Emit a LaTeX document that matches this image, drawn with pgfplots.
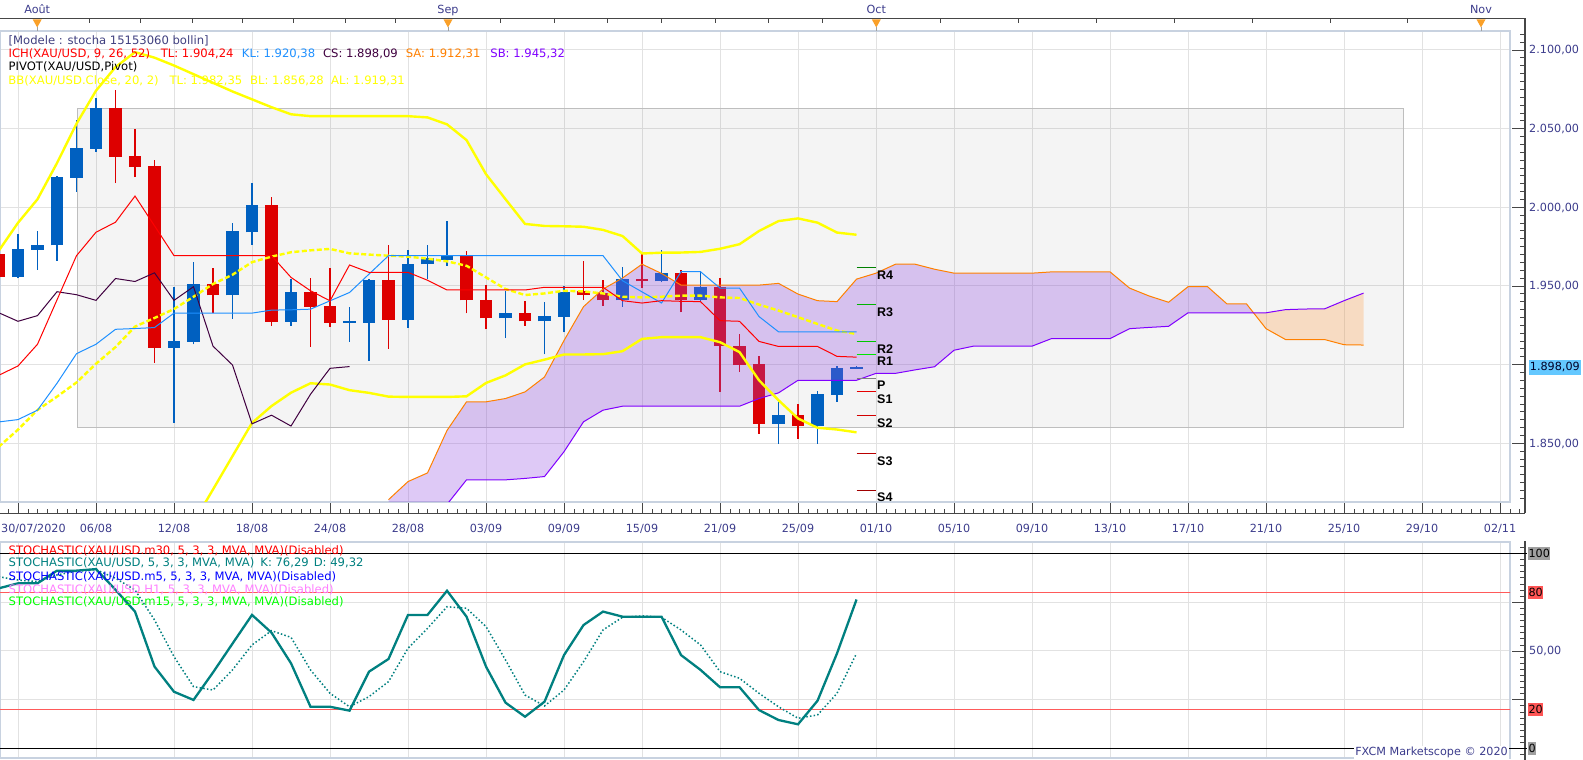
\documentclass[border=0pt]{standalone}
\usepackage{pgfplots}
\usepackage{pgfplotstable}
\pgfplotsset{compat=1.18}
\usepackage{fontspec}
\setmainfont{DejaVu Sans}
\newfontfamily\pivfont{Liberation Sans}

\definecolor{cblue}{RGB}{0,96,192}
\definecolor{cred}{RGB}{221,0,0}
\definecolor{tenkan}{RGB}{255,0,0}
\definecolor{kijun}{RGB}{30,144,255}
\definecolor{chikou}{RGB}{64,0,64}
\definecolor{senA}{RGB}{255,128,0}
\definecolor{senB}{RGB}{128,0,255}
\definecolor{bb}{RGB}{255,255,0}
\definecolor{cloudP}{RGB}{147,77,227}
\definecolor{cloudO}{RGB}{255,164,81}
\definecolor{gridc}{RGB}{226,226,226}
\definecolor{framec}{RGB}{200,210,224}
\definecolor{rectc}{RGB}{190,190,190}
\definecolor{axc}{RGB}{70,70,70}
\definecolor{labc}{RGB}{60,60,140}
\definecolor{modc}{RGB}{64,64,128}
\definecolor{tealk}{RGB}{0,128,128}
\definecolor{stred}{RGB}{255,90,90}
\definecolor{mkor}{RGB}{250,160,40}
\definecolor{pricebg}{RGB}{100,200,255}
\definecolor{lblgray}{RGB}{160,160,160}
\definecolor{lblred}{RGB}{255,85,85}
\definecolor{pR4}{RGB}{0,128,0}
\definecolor{pR3}{RGB}{0,180,0}
\definecolor{pR2}{RGB}{0,200,0}
\definecolor{pR1}{RGB}{0,230,0}
\definecolor{pP}{RGB}{128,128,128}
\definecolor{pS1}{RGB}{230,0,0}
\definecolor{pS2}{RGB}{210,0,0}
\definecolor{pS3}{RGB}{185,0,0}
\definecolor{pS4}{RGB}{160,0,0}
\definecolor{stpink}{RGB}{255,128,255}
\definecolor{stgreen}{RGB}{0,255,0}

\newcommand\lf{\fontsize{11.6pt}{13pt}\selectfont}
\newcommand\af{\fontsize{11.2pt}{13pt}\selectfont}
\newcommand\pf{\pivfont\bfseries\fontsize{12.5pt}{14pt}\selectfont}

% candles: i open high low close
\pgfplotstableread{
i o h l c
0 1955.3 1982.6 1954.7 1973.6
1 1973.0 1984.5 1960.2 1976.2
2 1975.7 2019.5 1966.0 2019.1
3 2018.5 2055.3 2009.6 2037.4
4 2037.0 2069.6 2035.1 2063.0
8 1910.6 1948.9 1862.8 1914.9
9 1914.5 1965.3 1912.8 1951.3
11 1943.8 1990.0 1929.1 1984.5
12 1984.0 2015.1 1976.2 2001.1
14 1927.2 1954.5 1924.5 1946.2
17 1926.6 1936.6 1914.5 1927.4
18 1926.6 1954.0 1902.3 1953.8
20 1928.3 1973.0 1923.2 1964.0
21 1963.6 1976.2 1954.3 1967.4
22 1966.5 1991.1 1962.7 1968.8
25 1929.3 1946.8 1916.7 1932.9
27 1927.4 1939.9 1906.3 1931.0
28 1930.4 1949.6 1920.3 1946.2
31 1940.7 1962.0 1936.7 1954.6
33 1952.7 1972.6 1952.1 1958.2
35 1940.7 1959.1 1940.5 1949.4
39 1862.2 1876.2 1849.6 1867.7
41 1860.8 1882.9 1849.6 1881.0
42 1880.6 1899.0 1876.2 1897.5
43 1897.3 1898.8 1897.3 1898.6
}\upc
\pgfplotstableread{
i o h l c
-1 1970.0 1972.0 1954.0 1955.3
5 2063.0 2074.5 2015.3 2031.9
6 2032.3 2049.6 2019.1 2025.5
7 2026.0 2029.8 1900.9 1910.6
10 1951.3 1961.3 1932.6 1943.8
13 2001.1 2006.2 1924.5 1927.2
15 1946.2 1955.1 1911.3 1936.6
16 1937.2 1961.3 1923.8 1926.6
19 1953.8 1976.2 1910.0 1928.3
23 1968.8 1972.2 1932.5 1940.7
24 1941.1 1950.6 1922.2 1929.3
26 1932.9 1940.5 1924.7 1927.4
29 1946.4 1965.8 1941.1 1944.3
30 1945.1 1953.6 1937.3 1940.7
32 1954.4 1971.1 1948.5 1952.7
34 1958.2 1959.9 1933.1 1940.7
36 1949.4 1954.9 1882.5 1911.6
37 1912.0 1919.4 1895.1 1899.6
38 1900.0 1905.1 1855.9 1862.2
40 1867.7 1874.7 1852.7 1860.8
}\dnc

% Ichimoku tenkan / kijun
\pgfplotstableread{
i tk kj
-1 1893 1863.4
0 1899 1864.9
1 1912.8 1870.9
2 1941 1888
3 1969.1 1906.8
4 1984 1912.8
5 1990.4 1922.3
6 2007 1922.8
7 1988.1 1923.4
8 1969.1 1932.6
9 1969.1 1932.6
10 1969.1 1932.6
11 1969.1 1932.6
12 1969.1 1932.6
13 1969.1 1934.5
14 1955.3 1934.7
15 1946.8 1935.1
16 1940.4 1940.4
17 1963.2 1945.7
18 1958.5 1957.4
19 1958.5 1969.1
20 1958.5 1969.1
21 1953.5 1969.1
22 1947.3 1969.1
23 1947.3 1969.1
24 1947.3 1969.1
25 1947.3 1969.1
26 1947.3 1969.1
27 1949 1969.1
28 1949 1969.1
29 1949 1969.1
30 1949 1969.1
31 1940.5 1953.2
32 1939 1946.1
33 1940.5 1939
34 1940.1 1958.9
35 1939.9 1958.9
36 1927.8 1948.5
37 1927.4 1948.5
38 1914.6 1930.4
39 1911.4 1920.7
40 1911.4 1920.7
41 1911.4 1920.7
42 1905.1 1920.7
43 1904.6 1920.7
}\ichi

% Chikou span
\pgfplotstableread{
i v
-1 1932.9
0 1927.4
1 1931.0
2 1946.2
3 1944.3
4 1940.7
5 1954.6
6 1952.7
7 1958.2
8 1940.7
9 1949.4
10 1911.6
11 1899.6
12 1862.2
13 1867.7
14 1860.8
15 1881.0
16 1897.5
17 1898.6
}\chik

% Senkou A / B
\pgfplotstableread{
i sa sb
19 1814 1766
20 1825.5 1781
21 1831 1796
22 1858 1811
23 1876.2 1826.6
24 1876.2 1826.6
25 1878.3 1826.6
26 1882.5 1827.5
27 1892 1828.7
28 1915.2 1844.5
29 1936.7 1863.5
30 1947.9 1870.9
31 1954.9 1873.4
32 1963.7 1873.4
33 1957.8 1873.4
34 1950.4 1873.4
35 1950.4 1873.4
36 1950.4 1873.4
37 1950.4 1873.4
38 1950.4 1878.3
39 1951.5 1881.9
40 1944.7 1889.9
41 1940.5 1889.9
42 1939.9 1889.9
43 1954.2 1889.9
44 1958 1894.3
45 1963.7 1894.3
46 1963.7 1896.5
47 1960.5 1898.5
48 1958 1909
49 1958 1911.6
50 1958 1911.6
51 1958 1911.6
52 1958 1911.6
53 1958.8 1916.4
54 1958.8 1916.4
55 1958.8 1916.4
56 1958.8 1916.4
57 1948.5 1922.7
58 1943.5 1923.5
59 1939.5 1924.2
60 1949.4 1932.8
61 1949.4 1932.8
62 1938.4 1932.8
63 1938.4 1932.8
64 1922.7 1932.8
65 1915.8 1934.8
66 1915.8 1935.2
67 1915.8 1935.3
68 1912.5 1940.5
69 1912.3 1945.3
}\cloud

% cloud areas (same values: Senkou A forward, Senkou B back)
\pgfplotstableread{
i v
19 1814
20 1825.5
21 1831
22 1858
23 1876.2
24 1876.2
25 1878.3
26 1882.5
27 1892
28 1915.2
29 1936.7
30 1947.9
31 1954.9
32 1963.7
33 1957.8
34 1950.4
35 1950.4
36 1950.4
37 1950.4
38 1950.4
39 1951.5
40 1944.7
41 1940.5
42 1939.9
43 1954.2
44 1958
45 1963.7
46 1963.7
47 1960.5
48 1958
49 1958
50 1958
51 1958
52 1958
53 1958.8
54 1958.8
55 1958.8
56 1958.8
57 1948.5
58 1943.5
59 1939.5
60 1949.4
61 1949.4
62 1938.4
63 1938.4
63.357 1932.8
63 1932.8
62 1932.8
61 1932.8
60 1932.8
59 1924.2
58 1923.5
57 1922.7
56 1916.4
55 1916.4
54 1916.4
53 1916.4
52 1911.6
51 1911.6
50 1911.6
49 1911.6
48 1909
47 1898.5
46 1896.5
45 1894.3
44 1894.3
43 1889.9
42 1889.9
41 1889.9
40 1889.9
39 1881.9
38 1878.3
37 1873.4
36 1873.4
35 1873.4
34 1873.4
33 1873.4
32 1873.4
31 1873.4
30 1870.9
29 1863.5
28 1844.5
27 1828.7
26 1827.5
25 1826.6
24 1826.6
23 1826.6
22 1811
21 1796
20 1781
19 1766
}\cloudup
\pgfplotstableread{
i v
63.357 1932.8
64 1932.8
65 1934.8
66 1935.2
67 1935.3
68 1940.5
69 1945.3
69 1912.3
68 1912.5
67 1915.8
66 1915.8
65 1915.8
64 1922.7
}\clouddn

% Bollinger bands
\pgfplotstableread{
i v
-1 1972
0 1990
1 2005
2 2028
3 2053
4 2074
5 2089
6 2098.5
7 2095
8 2090
9 2084.5
10 2079
11 2073.5
12 2068.5
13 2063.5
14 2059
15 2057.8
16 2057.8
17 2057.8
18 2057.8
19 2057.8
20 2057.8
21 2057
22 2052.6
23 2042.6
24 2020.9
25 2005
26 1989.3
27 1988
28 1987.8
29 1987.5
30 1985.5
31 1981.6
32 1970.5
33 1971
34 1971.1
35 1971.5
36 1973.5
37 1976.4
38 1984.8
39 1991.1
40 1992.8
41 1990.1
42 1983.8
43 1982.4
}\bbU
\pgfplotstableread{
i v
-1 1847.5
0 1858.5
1 1871
2 1879.5
3 1888.5
4 1900.4
5 1911
6 1924
7 1929.5
8 1935.2
9 1943
10 1951.1
11 1957
12 1965
13 1968.5
14 1971.3
15 1972.5
16 1973.4
17 1970.6
18 1969.8
19 1969.1
20 1968.5
21 1967.2
22 1965.5
23 1962.7
24 1955.3
25 1947.9
26 1944.1
27 1945.1
28 1946.8
29 1946.4
30 1945.1
31 1943
32 1942.6
33 1943
34 1943.7
35 1943.7
36 1942.6
37 1942.2
38 1938
39 1934.2
40 1930
41 1925.7
42 1921.5
43 1919.3
}\bbM
\pgfplotstableread{
i v
8 1778
9 1799.5
10 1820.5
11 1841.7
12 1862.8
13 1873.5
14 1882
15 1888
16 1887.2
17 1883.6
18 1881.9
19 1879.5
20 1879.3
21 1879.3
22 1879.3
23 1879.7
24 1888.2
25 1893
26 1900
27 1903
28 1906.3
29 1906.3
30 1906.5
31 1908.4
32 1916.2
33 1917.3
34 1917.3
35 1917.3
36 1914.1
37 1907.8
38 1889.9
39 1877.2
40 1865.6
41 1859.7
42 1858.6
43 1856.8
}\bbL

% Stochastic K / D
\pgfplotstableread{
i k d
-1 82 88
0 84.6 86.3
1 84.6 85.5
2 91.1 88.9
3 91.1 90.8
4 91.9 91.6
5 81.3 87.2
6 70.1 81.2
7 41.9 65.8
8 29 47
9 24.8 31.6
10 38.9 29.9
11 53.7 40.2
12 68.4 53
13 59.3 60.3
14 43.6 56.9
15 21.3 40.2
16 21.3 28.2
17 19.3 21.3
18 39.3 26.5
19 45.8 34.2
20 68.4 51.3
21 68.4 61.5
22 80.8 72.6
23 67.5 71.8
24 41.9 62.4
25 23.4 45.3
26 16.2 27.3
27 23.9 21.7
28 47.8 29.9
29 63.2 44.4
30 70.1 60.7
31 67.5 67.2
32 67.5 67.9
33 67.5 67.2
34 47.8 60.7
35 40.2 53
36 31.3 39.3
37 31.3 35.9
38 19.6 28.2
39 14.5 21.3
40 12.3 15.4
41 24.4 17.1
42 48.7 28.2
43 76.3 48.7
}\stoch

\begin{document}
\begin{tikzpicture}[font=\af]
\useasboundingbox (0,0) rectangle (1583pt,760pt);
\fill[white] (0,0) rectangle (1583pt,760pt);

%================ MAIN PRICE PANEL ================
\begin{axis}[
  at={(0pt,258.3pt)}, anchor=south west,
  scale only axis, width=1510pt, height=470.7pt,
  xmin=-0.92308, xmax=76.5128, ymin=1812.71, ymax=2111.95,
  xtick={0,4,...,76}, ytick={1850,1900,...,2100},
  xticklabels={}, yticklabels={}, major tick length=0pt,
  grid=major, major grid style={draw=gridc, line width=1pt},
  axis line style={draw=framec, line width=2pt}]

% gray zone
\addplot[draw=rectc, line width=1pt, fill=black, fill opacity=0.045]
  coordinates {(3.03,1860) (71.07,1860) (71.07,2062.8) (3.03,2062.8) (3.03,1860)};

% candles: wicks
\addplot[draw=none, mark=none, error bars/.cd, y dir=plus, y explicit, error mark=none,
  error bar style={draw=cblue, line width=1.7pt}]
  table[x=i, y=l, y error expr=\thisrow{h}-\thisrow{l}] {\upc};
\addplot[draw=none, mark=none, error bars/.cd, y dir=plus, y explicit, error mark=none,
  error bar style={draw=cred, line width=1.7pt}]
  table[x=i, y=l, y error expr=\thisrow{h}-\thisrow{l}] {\dnc};
% candles: bodies
\addplot[draw=none, mark=none, error bars/.cd, y dir=plus, y explicit, error mark=none,
  error bar style={draw=cblue, line width=12.5pt}]
  table[x=i, y=o, y error expr=\thisrow{c}-\thisrow{o}] {\upc};
\addplot[draw=none, mark=none, error bars/.cd, y dir=plus, y explicit, error mark=none,
  error bar style={draw=cred, line width=12.5pt}]
  table[x=i, y=c, y error expr=\thisrow{o}-\thisrow{c}] {\dnc};

% Ichimoku cloud
\addplot[fill=cloudP, fill opacity=0.3, draw=none] table[x=i,y=v]{\cloudup};
\addplot[fill=cloudO, fill opacity=0.3, draw=none] table[x=i,y=v]{\clouddn};
\addplot[senA, line width=1pt] table[x=i,y=sa]{\cloud};
\addplot[senB, line width=1pt] table[x=i,y=sb]{\cloud};

% Bollinger
\addplot[bb, line width=2.4pt] table[x=i,y=v]{\bbU};
\addplot[bb, line width=2.4pt] table[x=i,y=v]{\bbL};
\addplot[bb, line width=2.4pt, dash pattern=on 5pt off 2.5pt] table[x=i,y=v]{\bbM};

% Ichimoku lines
\addplot[chikou, line width=1pt] table[x=i,y=v]{\chik};
\addplot[kijun, line width=1pt] table[x=i,y=kj]{\ichi};
\addplot[tenkan, line width=1pt] table[x=i,y=tk]{\ichi};

% Pivot levels
\addplot[pR4, line width=1pt] coordinates {(43,1961.4) (44,1961.4)};
\addplot[pR3, line width=1pt] coordinates {(43,1938.0) (44,1938.0)};
\addplot[pR2, line width=1pt] coordinates {(43,1914.4) (44,1914.4)};
\addplot[pR1, line width=1pt] coordinates {(43,1906.3) (44,1906.3)};
\addplot[pP,  line width=1pt] coordinates {(43,1891.1) (44,1891.1)};
\addplot[pS1, line width=1pt] coordinates {(43,1882.6) (44,1882.6)};
\addplot[pS2, line width=1pt] coordinates {(43,1867.5) (44,1867.5)};
\addplot[pS3, line width=1pt] coordinates {(43,1843.2) (44,1843.2)};
\addplot[pS4, line width=1pt] coordinates {(43,1820.0) (44,1820.0)};
\node[anchor=base west, inner sep=0, font=\pf, yshift=-11.5pt] at (axis cs:44.05,1961.4) {R4};
\node[anchor=base west, inner sep=0, font=\pf, yshift=-11.5pt] at (axis cs:44.05,1938.0) {R3};
\node[anchor=base west, inner sep=0, font=\pf, yshift=-11.5pt] at (axis cs:44.05,1914.4) {R2};
\node[anchor=base west, inner sep=0, font=\pf, yshift=-11.5pt] at (axis cs:44.05,1906.3) {R1};
\node[anchor=base west, inner sep=0, font=\pf, yshift=-11.5pt] at (axis cs:44.05,1891.1) {P};
\node[anchor=base west, inner sep=0, font=\pf, yshift=-11.5pt] at (axis cs:44.05,1882.6) {S1};
\node[anchor=base west, inner sep=0, font=\pf, yshift=-11.5pt] at (axis cs:44.05,1867.5) {S2};
\node[anchor=base west, inner sep=0, font=\pf, yshift=-11.5pt] at (axis cs:44.05,1843.2) {S3};
\node[anchor=base west, inner sep=0, font=\pf, yshift=-11.5pt] at (axis cs:44.05,1820.0) {S4};
\end{axis}

%================ STOCHASTIC PANEL ================
\begin{axis}[
  at={(0pt,1.7pt)}, anchor=south west,
  scale only axis, width=1510pt, height=216.6pt,
  xmin=-0.92308, xmax=76.5128, ymin=-5.128, ymax=105.949,
  xtick={0,4,...,76}, ytick={25,50,75},
  xticklabels={}, yticklabels={}, major tick length=0pt,
  grid=major, major grid style={draw=gridc, line width=1pt},
  axis line style={draw=framec, line width=2pt}]
\addplot[black, line width=1pt] coordinates {(-1,100) (77,100)};
\addplot[black, line width=1pt] coordinates {(-1,0) (77,0)};
\addplot[stred, line width=1pt] coordinates {(-1,80) (77,80)};
\addplot[stred, line width=1pt] coordinates {(-1,20) (77,20)};
\addplot[tealk, line width=1.5pt, dash pattern=on 1.5pt off 2.2pt] table[x=i,y=d]{\stoch};
\addplot[tealk, line width=2.3pt] table[x=i,y=k]{\stoch};
\end{axis}

%================ DECORATIONS (pixel coordinates) ================
\begin{scope}[x=1pt,y=-1pt,yshift=760pt]
% top time strip
\draw[axc, line width=1.2pt] (0,18.8) -- (1525,18.8) -- (1525,513.3);
\foreach \x in {89.6,140.3,191.7,242.4,293.4,344.8,395.5,500.3,553.9,607.6,661.3,714.9,768.6,822.3,939.7,1017.7,1095.7,1173.7,1251.7,1329.7,1407.5}
  \draw[axc] (\x,18.8) -- (\x,23);
\foreach \x/\m in {37.2/Août,448/Sep,876.3/Oct,1481/Nov} {
  \fill[mkor] (\x-4.5,19.4) -- (\x+4.5,19.4) -- (\x,27.5) -- cycle;
  \draw[lblgray] (\x,27.5) -- (\x,31);
  \node[text=labc, anchor=base, inner sep=0] at (\x,13.2) {\m};
}
% main right axis ticks
\foreach \v in {1815,1820,...,2110}
  \draw[axc] (1520,{49.8+(2100-\v)*1.573}) -- (1525,{49.8+(2100-\v)*1.573});
\foreach \v in {1850,1900,...,2100}
  \draw[axc] (1512,{49.8+(2100-\v)*1.573}) -- (1525,{49.8+(2100-\v)*1.573});
\node[text=labc, anchor=base west, inner sep=0] at (1529,54.0) {2.100,00};
\node[text=labc, anchor=base west, inner sep=0] at (1529,132.6) {2.050,00};
\node[text=labc, anchor=base west, inner sep=0] at (1529,211.3) {2.000,00};
\node[text=labc, anchor=base west, inner sep=0] at (1529,290.0) {1.950,00};
\node[text=labc, anchor=base west, inner sep=0] at (1529,447.3) {1.850,00};
\node[fill=pricebg, text=black!85!blue, anchor=west, inner xsep=1pt, inner ysep=0pt, minimum height=15pt] at (1528.7,367.4) {1.898,09};
% bottom date axis
\draw[axc, line width=1.2pt] (0,513.3) -- (1525,513.3);
\foreach \k in {-1,...,154}
  \draw[axc] ({18+9.75*\k},513.3) -- ({18+9.75*\k},508.6);
\foreach \k in {0,...,19}
  \draw[axc] ({18+78*\k},513.3) -- ({18+78*\k},502.6);
\node[text=labc, anchor=base west, inner sep=0] at (1,532.2) {30/07/2020};
\foreach \d [count=\k] in {06/08,12/08,18/08,24/08,28/08,03/09,09/09,15/09,21/09,25/09,01/10,05/10,09/10,13/10,17/10,21/10,25/10,29/10,02/11}
  \node[text=labc, anchor=base, inner sep=0] at ({18+78*\k},532.2) {\d};
% stochastic right axis
\draw[axc, line width=1.2pt] (1525,541.5) -- (1525,760);
\foreach \k in {-1,...,33}
  \draw[axc] (1520,{748.3-1.95*3.125*\k}) -- (1525,{748.3-1.95*3.125*\k});
\foreach \s in {25,50,75}
  \draw[axc] (1512,{748.3-1.95*\s}) -- (1525,{748.3-1.95*\s});
\draw[black, line width=1pt] (1509,553.3) -- (1527,553.3);
\draw[black, line width=1pt] (1509,748.3) -- (1527,748.3);
\node[fill=lblgray, text=black, anchor=west, inner xsep=0.6pt, inner ysep=0pt, minimum height=12.5pt] at (1527.7,553.3) {100};
\node[fill=lblred, text=black, anchor=west, inner xsep=0.6pt, inner ysep=0pt, minimum height=12.5pt] at (1527.7,592.3) {80};
\node[text=labc, anchor=base west, inner sep=0] at (1529,655.0) {50,00};
\node[fill=lblred, text=black, anchor=west, inner xsep=0.6pt, inner ysep=0pt, minimum height=12.5pt] at (1527.7,709.3) {20};
\node[fill=lblgray, text=black, anchor=west, inner xsep=0.6pt, inner ysep=0pt, minimum height=12.5pt] at (1527.7,748.3) {0};
\node[fill=white, text=labc, anchor=base east, inner xsep=1pt, inner ysep=1pt] at (1509,755.8) {FXCM Marketscope © 2020};
% main legend
\node[anchor=base west, inner sep=0, font=\lf, text=modc] at (8.5,44.1) {[Modele : stocha 15153060 bollin]};
\node[anchor=base west, inner sep=0, font=\lf, text=tenkan] at (8.5,57.3) {ICH(XAU/USD, 9, 26, 52)};
\node[anchor=base west, inner sep=0, font=\lf, text=tenkan] at (160.6,57.3) {TL: 1.904,24};
\node[anchor=base west, inner sep=0, font=\lf, text=kijun] at (241.7,57.3) {KL: 1.920,38};
\node[anchor=base west, inner sep=0, font=\lf, text=chikou] at (322.9,57.3) {CS: 1.898,09};
\node[anchor=base west, inner sep=0, font=\lf, text=senA] at (405.7,57.3) {SA: 1.912,31};
\node[anchor=base west, inner sep=0, font=\lf, text=senB] at (490.2,57.3) {SB: 1.945,32};
\node[anchor=base west, inner sep=0, font=\lf, text=black] at (8.5,70.1) {PIVOT(XAU/USD,Pivot)};
\node[anchor=base west, inner sep=0, font=\lf, text=bb] at (8.3,84.2) {BB(XAU/USD.Close, 20, 2)};
\node[anchor=base west, inner sep=0, font=\lf, text=bb] at (169.3,84.2) {TL: 1.982,35};
\node[anchor=base west, inner sep=0, font=\lf, text=bb] at (250,84.2) {BL: 1.856,28};
\node[anchor=base west, inner sep=0, font=\lf, text=bb] at (331,84.2) {AL: 1.919,31};
% stochastic legend
\node[anchor=base west, inner sep=0, font=\lf, text=red] at (8.5,554.2) {STOCHASTIC(XAU/USD.m30, 5, 3, 3, MVA, MVA)(Disabled)};
\node[anchor=base west, inner sep=0, font=\lf, text=tealk] at (8.5,566.9) {STOCHASTIC(XAU/USD, 5, 3, 3, MVA, MVA)\hspace{6pt}K: 76,29\hspace{5pt}D: 49,32};
\node[anchor=base west, inner sep=0, font=\lf, text=blue] at (8.5,580.2) {STOCHASTIC(XAU/USD.m5, 5, 3, 3, MVA, MVA)(Disabled)};
\node[anchor=base west, inner sep=0, font=\lf, text=stpink] at (8.5,593.2) {STOCHASTIC(XAU/USD.H1, 5, 3, 3, MVA, MVA)(Disabled)};
\node[anchor=base west, inner sep=0, font=\lf, text=stgreen] at (8.5,605.9) {STOCHASTIC(XAU/USD.m15, 5, 3, 3, MVA, MVA)(Disabled)};
\end{scope}
\end{tikzpicture}
\end{document}
